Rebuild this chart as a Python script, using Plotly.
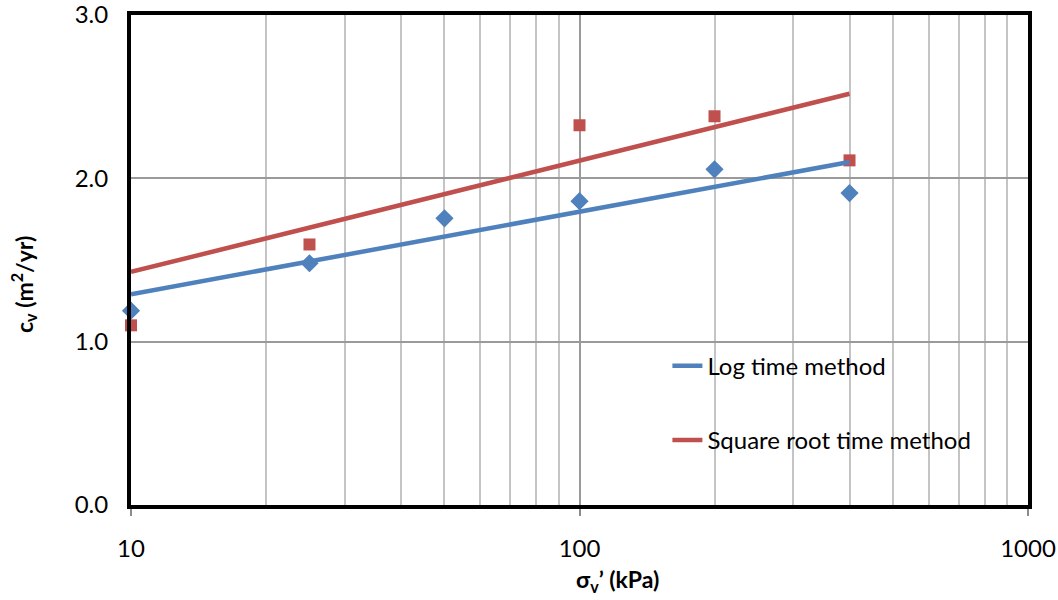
import plotly.graph_objects as go

# Data
stress_log = [10, 25, 50, 100, 200, 400]
cv_log = [1.19, 1.48, 1.755, 1.86, 2.055, 1.91]

stress_sqrt = [10, 25, 100, 200, 400]
cv_sqrt = [1.10, 1.595, 2.325, 2.38, 2.11]

trend_x = [10, 400]
trend_log = [1.29, 2.10]
trend_sqrt = [1.427, 2.518]

BLUE = "#4F81BD"
RED = "#C0504D"
FONT = "Lato"

fig = go.Figure()

fig.add_trace(go.Scatter(
    x=stress_log, y=cv_log, mode="markers", showlegend=False,
    marker=dict(symbol="diamond", size=14, color=BLUE), cliponaxis=False,
))
fig.add_trace(go.Scatter(
    x=stress_sqrt, y=cv_sqrt, mode="markers", showlegend=False,
    marker=dict(symbol="square", size=12, color=RED), cliponaxis=False,
))
fig.add_trace(go.Scatter(
    x=trend_x, y=trend_log, mode="lines", name="Log time method",
    legendgroup="a", line=dict(color=BLUE, width=4.5),
))
fig.add_trace(go.Scatter(
    x=trend_x, y=trend_sqrt, mode="lines", name="Square root time method",
    legendgroup="b", line=dict(color=RED, width=4.5),
))

fig.update_layout(
    width=1058, height=600,
    margin=dict(l=131, r=30, t=15, b=95, autoexpand=False),
    paper_bgcolor="white", plot_bgcolor="white",
    font=dict(family=FONT, size=24, color="black"),
    showlegend=True,
    legend=dict(
        x=0.598, y=0.208, xanchor="left", yanchor="middle",
        bgcolor="rgba(0,0,0,0)", font=dict(family=FONT, size=24),
        tracegroupgap=40, traceorder="grouped",
    ),
    xaxis=dict(
        type="log", range=[1, 3], dtick=1, automargin=False,
        showline=True, linecolor="black", linewidth=4, mirror=True,
        ticks="outside", ticklen=7, tickwidth=2, tickcolor="#8c8c8c",
        ticklabelstandoff=12, ticklabeloverflow="allow",
        showgrid=True, gridcolor="#9a9a9a", gridwidth=1.5,
        minor=dict(dtick="D1", showgrid=True, gridcolor="#c4c4c4", gridwidth=1.5, ticks=""),
        tickfont=dict(family=FONT, size=24), zeroline=False,
    ),
    yaxis=dict(
        range=[0, 3], dtick=1, tickformat=".1f", automargin=False,
        showline=True, linecolor="black", linewidth=4, mirror=True,
        ticks="outside", ticklen=14, tickcolor="rgba(0,0,0,0)",
        ticklabeloverflow="allow",
        showgrid=True, gridcolor="#9a9a9a", gridwidth=1.5,
        tickfont=dict(family=FONT, size=24), zeroline=False,
    ),
    annotations=[
        dict(text="<b>σ<sub>v</sub>’ (kPa)</b>", xref="paper", yref="paper",
             x=(617 - 131) / 897, y=-(580 - 505) / 490, xanchor="center", yanchor="middle",
             showarrow=False, font=dict(family=FONT, size=23)),
        dict(text="<b>c<sub>v</sub> (m<sup>2</sup>/yr)</b>", xref="paper", yref="paper",
             x=(23 - 131) / 897, y=(505 - 285) / 490, xanchor="center", yanchor="middle",
             textangle=-90, showarrow=False, font=dict(family=FONT, size=23)),
    ],
)

fig.write_html("out.html")
